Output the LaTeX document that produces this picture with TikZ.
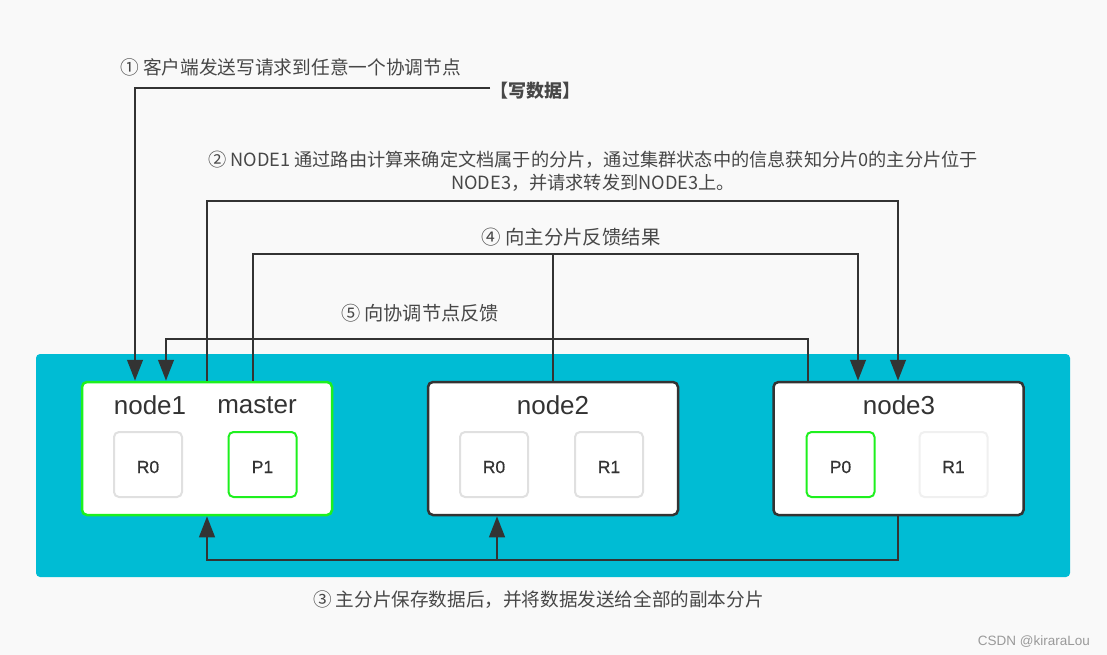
\documentclass[tikz,border=0pt]{standalone}
\usepackage{fontspec}
\setmainfont{Liberation Sans}
\newfontfamily\cjk{Noto Sans CJK SC}
\newfontfamily\medfont[FakeBold=0.6]{Liberation Sans}
\usetikzlibrary{arrows.meta}
\definecolor{bgc}{HTML}{F9F9F9}
\definecolor{cyanp}{HTML}{00BCD4}
\definecolor{ink}{HTML}{333333}
\definecolor{lime}{HTML}{1EF01E}
\definecolor{shgray}{HTML}{E0E0E0}
\definecolor{shlight}{HTML}{F0F0F0}
\definecolor{wm}{HTML}{9A9A9A}
\tikzset{
  box/.style={draw=ink, line width=2.5pt, fill=white, rounded corners=5pt,
    minimum width=250pt, minimum height=133pt, inner sep=0pt},
  gbox/.style={box, draw=lime},
  shard/.style={draw=shgray, line width=2pt, fill=white, rounded corners=5pt,
    minimum width=68pt, minimum height=65pt, inner sep=0pt},
  gshard/.style={shard, draw=lime},
  lshard/.style={shard, draw=shlight},
  shlabel/.style={text=ink, font=\medfont\fontsize{17.5}{20}\selectfont, inner sep=0pt},
  nlabel/.style={text=ink, font=\fontsize{26}{30}\selectfont, inner sep=0pt},
  captext/.style={text=ink!90, inner sep=0pt, font=\cjk\fontsize{18.7}{23}\selectfont},
  conn/.style={draw=ink, line width=2.7pt},
  arr/.style={conn, -{Triangle[length=21pt,width=15.5pt]}},
}
\begin{document}
\begin{tikzpicture}[x=1pt,y=-1pt]
\useasboundingbox (0,0) rectangle (1107,655);
\fill[bgc] (0,0) rectangle (1107,655);
% cluster panel
\fill[cyanp, rounded corners=4pt] (36,354) rectangle (1070,577);

% node boxes
\node[gbox] (n1) at (207,448.5) {};
\node[box]  (n2) at (553,448.5) {};
\node[box]  (n3) at (898.5,448.5) {};

% node labels
\node[nlabel] (l1) at (150,405) {node1};
\node[nlabel] (lm) at (257,405) {master};
\node[nlabel] (l2) at (553,405) {node2};
\node[nlabel] (l3) at (899,405) {node3};

% shards
\node[shard]  (s1a) at (148,464.5) {};
\node[gshard] (s1b) at (262.5,464.5) {};
\node[shard]  (s2a) at (494,464.5) {};
\node[shard]  (s2b) at (609,464.5) {};
\node[gshard] (s3a) at (840.5,464.5) {};
\node[lshard] (s3b) at (953.5,464.5) {};
\node[shlabel] (t1a) at (148,467) {R0};
\node[shlabel] (t1b) at (262.5,467) {P1};
\node[shlabel] (t2a) at (494,467) {R0};
\node[shlabel] (t2b) at (609,467) {R1};
\node[shlabel] (t3a) at (840.5,467) {P0};
\node[shlabel] (t3b) at (953.5,467) {R1};

% captions
\node[captext, anchor=west] (cap1) at (120,67) {① 客户端发送写请求到任意一个协调节点};
\node[captext, anchor=west, font=\cjk\bfseries\fontsize{18}{22}\selectfont] (wl) at (490,91) {【写数据】};
\node[captext, align=center, font=\cjk\fontsize{18.2}{23}\selectfont] (cap2) at (593,171.5)
  {② NODE1 通过路由计算来确定文档属于的分片，通过集群状态中的信息获知分片0的主分片位于\\NODE3，并请求转发到NODE3上。};
\node[captext, font=\cjk\fontsize{19.4}{24}\selectfont] (cap4) at (571,237) {④ 向主分片反馈结果};
\node[captext, font=\cjk\fontsize{19.2}{24}\selectfont] (cap5) at (420,313) {⑤ 向协调节点反馈};
\node[captext, anchor=west, font=\cjk\fontsize{18.6}{23}\selectfont] (cap3) at (313,600) {③ 主分片保存数据后，并将数据发送给全部的副本分片};
\node[anchor=east, text=wm, inner sep=0pt, font=\fontsize{13.5}{16}\selectfont] (wmk) at (1090,642) {CSDN @kiraraLou};

% connector waypoints
\coordinate (c1) at (135,88);
\coordinate (c2a) at (207,201);
\coordinate (c2b) at (898,201);
\coordinate (c4a) at (253,254);
\coordinate (c4m) at (553,254);
\coordinate (c4b) at (858,254);
\coordinate (c5a) at (808,339);
\coordinate (c5b) at (166,339);
\coordinate (c3a) at (207,560);
\coordinate (c3m) at (497,560);
\coordinate (c3b) at (898,560);

% 1: client write
\draw[arr] (wl.west |- c1) -- (c1) -- (c1 |- n1.north);
% 2: forward to node3
\draw[arr] (c2a |- n1.north) -- (c2a) -- (c2b) -- (c2b |- n3.north);
% 4: feedback to primary
\draw[arr] (c4a |- n1.north) -- (c4a) -- (c4b) -- (c4b |- n3.north);
\draw[conn] (c4m |- n2.north) -- (c4m);
% 5: feedback to coordinating node
\draw[arr] (c5a |- n3.north) -- (c5a) -- (c5b) -- (c5b |- n1.north);
% 3: replicate
\draw[arr] (c3b |- n3.south) -- (c3b) -- (c3a) -- (c3a |- n1.south);
\draw[arr] (c3m) -- (c3m |- n2.south);
\end{tikzpicture}
\end{document}
